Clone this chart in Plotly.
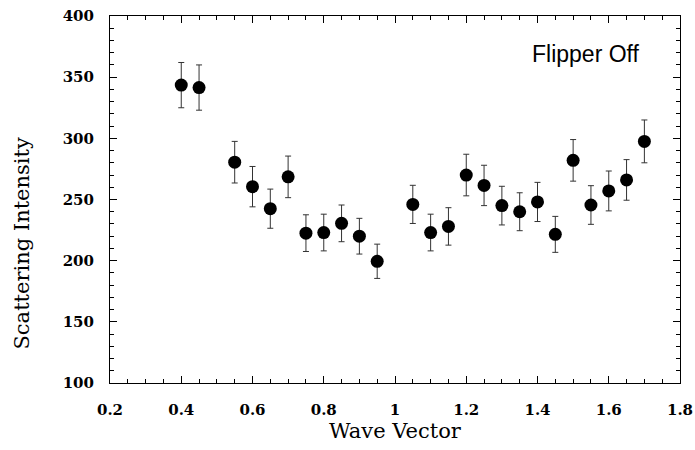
import plotly.graph_objects as go

wave_vector = [0.40, 0.45, 0.55, 0.60, 0.65, 0.70, 0.75, 0.80, 0.85, 0.90, 0.95,
               1.05, 1.10, 1.15, 1.20, 1.25, 1.30, 1.35, 1.40, 1.45, 1.50, 1.55,
               1.60, 1.65, 1.70]
intensity = [343.5, 341.5, 280.5, 260.5, 242.5, 268.5, 222.5, 223, 230.5, 220, 199.5,
             246, 223, 228, 270, 261.5, 245, 240, 248, 221.5, 282, 245.5,
             257, 266, 297.5]
error = [18.5, 18.5, 17, 16.5, 16, 17, 15, 15, 15, 14.6, 14,
         15.6, 15, 15.3, 17, 16.5, 15.8, 15.5, 16, 14.7, 17, 15.8,
         16.3, 16.6, 17.5]

x_ticks = [0.2, 0.4, 0.6, 0.8, 1.0, 1.2, 1.4, 1.6, 1.8]
x_tick_labels = ["0.2", "0.4", "0.6", "0.8", "1", "1.2", "1.4", "1.6", "1.8"]
y_ticks = [100, 150, 200, 250, 300, 350, 400]

fig = go.Figure()
fig.add_trace(go.Scatter(
    x=wave_vector, y=intensity, mode="markers",
    marker=dict(color="black", size=13),
    error_y=dict(type="data", array=error, visible=True,
                 color="#333333", thickness=1, width=3),
    showlegend=False,
))

serif = "DejaVu Serif, serif"
axis_common = dict(
    showline=True, linecolor="black", linewidth=1, mirror="ticks",
    ticks="inside", ticklen=7, tickcolor="black", tickwidth=1,
    showgrid=False, zeroline=False, automargin=False,
    tickfont=dict(family=serif, size=15, color="black", weight=700),
)

fig.update_layout(
    template="none",
    width=695, height=450,
    margin=dict(l=110, r=15, t=16, b=67),
    paper_bgcolor="white", plot_bgcolor="white",
    xaxis=dict(range=[0.2, 1.8], tickvals=x_ticks, ticktext=x_tick_labels,
               ticklabelstandoff=13,
               minor=dict(dtick=0.05, tick0=0.2, ticks="inside", ticklen=4,
                          tickcolor="black", showgrid=False),
               title=dict(text="Wave Vector", font=dict(family=serif, size=21, color="black"),
                          standoff=2),
               **axis_common),
    yaxis=dict(range=[100, 400], tickvals=y_ticks, ticklabelstandoff=12,
               minor=dict(dtick=10, tick0=100, ticks="inside", ticklen=4,
                          tickcolor="black", showgrid=False),
               **axis_common),
    annotations=[
        dict(text="Flipper Off", x=1.535, y=369, xref="x", yref="y",
             showarrow=False,
             font=dict(family="Liberation Sans, Arial, sans-serif", size=23, color="black")),
        dict(text="Scattering Intensity", x=(22 - 110) / 570.0, y=214, xref="paper", yref="y",
             showarrow=False, textangle=-90, xanchor="center", yanchor="middle",
             font=dict(family=serif, size=21, color="black")),
    ],
)

fig.write_html("out.html", config={"displayModeBar": False},
               post_script="document.body.style.margin='0';")
